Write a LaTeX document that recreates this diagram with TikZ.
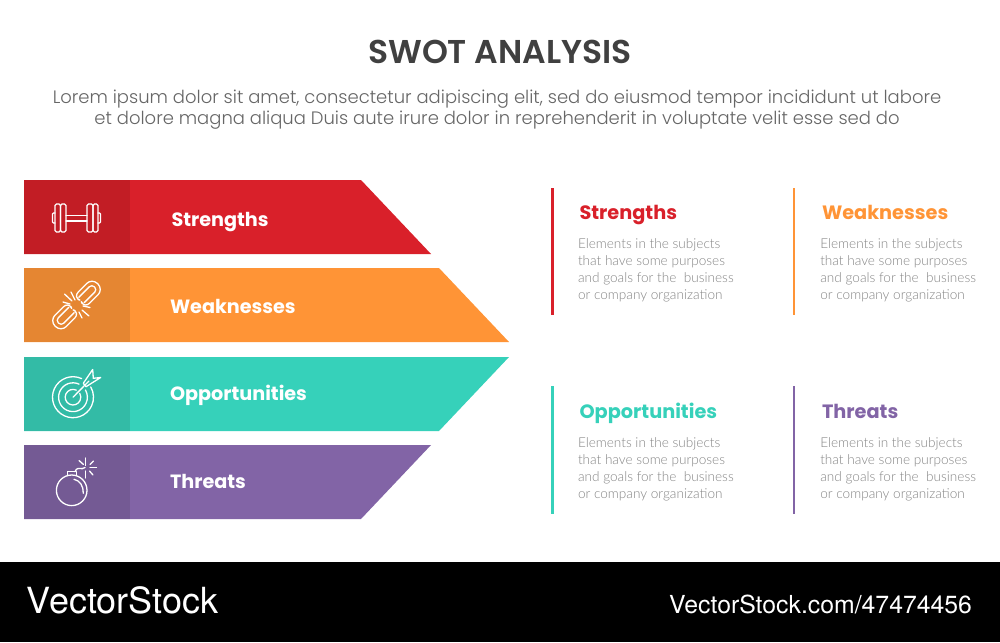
\documentclass[tikz,border=0pt]{standalone}
\usepackage{fontspec}
\setmainfont{Poppins}
\newfontfamily\popsemi{Poppins SemiBold}
\newfontfamily\poplight{Poppins Light}
\newfontfamily\bodyfont{Lato Light}
\newfontfamily\wmfont{TeX Gyre Heros}
\definecolor{cred}{HTML}{D9202A}\definecolor{dred}{HTML}{C21D25}
\definecolor{corange}{HTML}{FF9436}\definecolor{dorange}{HTML}{E58632}
\definecolor{cteal}{HTML}{36D1BA}\definecolor{dteal}{HTML}{33BBA6}
\definecolor{cpurple}{HTML}{8264A6}\definecolor{dpurple}{HTML}{745A94}
\definecolor{titlegray}{HTML}{404040}\definecolor{subgray}{HTML}{666666}\definecolor{bodygray}{HTML}{858585}
\tikzset{
 txt/.style={inner sep=0pt,outer sep=0pt,anchor=base west},
 barlabel/.style={txt,text=white,font=\fontsize{19.2}{22}\selectfont\bfseries},
 headlabel/.style={txt,font=\fontsize{19.3}{22}\selectfont\bfseries},
 bodytext/.style={inner sep=0pt,outer sep=0pt,anchor=west,align=left,text=bodygray,font=\fontsize{13.6}{17}\selectfont\bodyfont},
 icon/.style={draw=white,line width=1.3pt,line cap=round,line join=round},
 divider/.style={line width=2.6pt}
}
\newcommand{\bodylines}{Elements in the subjects\\that have some purposes\\and goals for the\ \ business\\or company organization}
\begin{document}
\begin{tikzpicture}[x=1pt,y=-1pt]
\useasboundingbox (0,0) rectangle (1000,642);
\fill[white] (0,0) rectangle (1000,642);
\fill[black] (0,562) rectangle (1000,642);
% title
\node[inner sep=0pt,text=titlegray,font=\fontsize{33}{36}\selectfont\popsemi] (title) at (500,52) {SWOT ANALYSIS};
\node[inner sep=0pt,text=subgray,align=center,font=\fontsize{17.98}{21.5}\selectfont\poplight] (sub) at (497,109.5) {Lorem ipsum dolor sit amet, consectetur adipiscing elit, sed do eiusmod tempor incididunt ut labore\\et dolore magna aliqua Duis aute irure dolor in reprehenderit in voluptate velit esse sed do};
% bars
\fill[cred] (24,180) -- (361,180) -- (431,254) -- (24,254) -- cycle;
\fill[dred] (24,180) rectangle (130,254);
\fill[corange] (24,268) -- (439,268) -- (509,342) -- (24,342) -- cycle;
\fill[dorange] (24,268) rectangle (130,342);
\fill[cteal] (24,357) -- (509,357) -- (439,431) -- (24,431) -- cycle;
\fill[dteal] (24,357) rectangle (130,431);
\fill[cpurple] (24,445) -- (431,445) -- (361,519) -- (24,519) -- cycle;
\fill[dpurple] (24,445) rectangle (130,519);
\node[barlabel] (ls) at (171.5,226.2) {Strengths};
\node[barlabel] (lw) at (170,313.4) {Weaknesses};
\node[barlabel] (lo) at (170,400.3) {Opportunities};
\node[barlabel] (lt) at (170,488.4) {Threats};
% dumbbell
\begin{scope}[icon]
\draw[rounded corners=1.5pt] (55,204) rectangle (60.5,232);
\draw[rounded corners=1.5pt] (60.5,204) rectangle (66,232);
\draw[rounded corners=1.5pt] (87,204) rectangle (93,232);
\draw[rounded corners=1.5pt] (93,204) rectangle (98,232);
\draw[rounded corners=1pt] (55,213) -- (52.5,213) -- (52.5,223) -- (55,223);
\draw[rounded corners=1pt] (98,213) -- (100.5,213) -- (100.5,223) -- (98,223);
\draw (66,215.5) -- (87,215.5) (66,221) -- (87,221);
\end{scope}
% broken chain
\begin{scope}[icon]
\begin{scope}[shift={(76.5,305)},rotate=45]
\draw[rounded corners=7.5pt] (5,-3) -- (3,-8) -- (30,-8) -- (30,8) -- (3,8) -- (5,3);
\draw[rounded corners=3.5pt] (7,-3.8) -- (25.5,-3.8) -- (25.5,3.8) -- (7,3.8);
\draw[rounded corners=7.5pt] (-5,3) -- (-3,8) -- (-30,8) -- (-30,-8) -- (-3,-8) -- (-5,-3);
\draw[rounded corners=3.5pt] (-7,3.8) -- (-25.5,3.8) -- (-25.5,-3.8) -- (-7,-3.8);
\end{scope}
\draw (71,292) -- (75,300);
\draw (64.5,294) -- (72,301);
\draw (63,302) -- (70,304);
\draw (83,306) -- (90,307.5);
\draw (82,310) -- (89,316);
\draw (79,312) -- (82,318);
\end{scope}
% target
\begin{scope}[icon]
\draw (73,397.2) ++(-65:20.5) arc[start angle=-65,end angle=-390,radius=20.5];
\draw (73,397.2) ++(-65:14.4) arc[start angle=-65,end angle=-390,radius=14.4];
\draw (73,397.2) ++(-65:7.8) arc[start angle=-65,end angle=-390,radius=7.8];
\draw (73,397.2) -- (89,381);
\draw (83.3,383.3) -- (92.7,369.5) -- (93.3,378.3) -- (100.7,377.5) -- (86,386.7) -- cycle;
\end{scope}
% bomb
\begin{scope}[icon]
\draw (71.7,490.3) circle[radius=15.3];
\draw (67.3,475.5) -- (67.3,471.7) -- (76.7,471.7) -- (76.7,475.5);
\draw (74,479.3) .. controls (80,480.5) and (83.5,486) .. (83.3,493.3);
\draw (75,471.7) .. controls (78,465) and (81,471) .. (85,467.5);
\draw (85.5,458) -- (85.5,465.5);
\draw (79,460.5) -- (83.5,464.5);
\draw (90,464.5) -- (93.5,461);
\draw (90,467.5) -- (96.5,467.5);
\draw (89.5,471) -- (93,475);
\draw (85.5,471) -- (85.5,478);
\end{scope}
% right columns
\coordinate (a1) at (552.5,188); \coordinate (a2) at (552.5,315);
\coordinate (b1) at (794,188); \coordinate (b2) at (794,315);
\coordinate (c1) at (552.5,386); \coordinate (c2) at (552.5,514);
\coordinate (d1) at (794,386); \coordinate (d2) at (794,514);
\draw[divider,cred] (a1) -- (a2);
\draw[divider,corange] (b1) -- (b2);
\draw[divider,cteal] (c1) -- (c2);
\draw[divider,cpurple] (d1) -- (d2);
\node[headlabel,text=cred] (hs) at (579.5,219.3) {Strengths};
\node[headlabel,text=corange] (hw) at (822,219.3) {Weaknesses};
\node[headlabel,text=cteal] (ho) at (579.5,418) {Opportunities};
\node[headlabel,text=cpurple] (ht) at (822,418) {Threats};
\node[bodytext] (bs) at (578,270.3) {\bodylines};
\node[bodytext] (bw) at (820.3,270.3) {\bodylines};
\node[bodytext] (bo) at (578,469) {\bodylines};
\node[bodytext] (bt) at (820.3,469) {\bodylines};
% watermark
\node[txt,text=white,font=\fontsize{36}{40}\selectfont\wmfont] (wm1) at (27,613.5) {VectorStock};
\node[txt,anchor=base east,text=white,font=\fontsize{24.8}{28}\selectfont\wmfont] (wm2) at (972,613) {VectorStock.com/47474456};
\end{tikzpicture}
\end{document}
